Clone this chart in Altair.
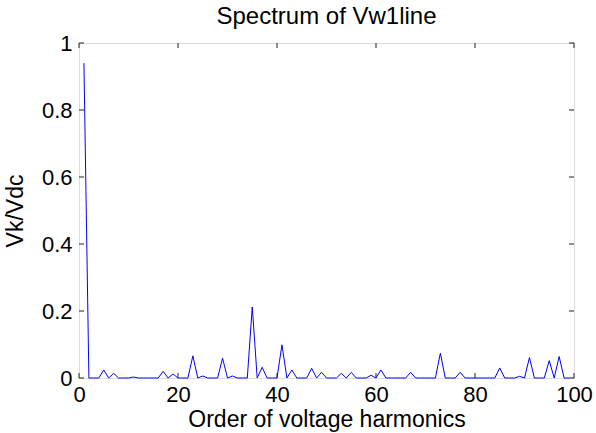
import altair as alt
import pandas as pd

orders = list(range(1, 100))
# spectrum values Vk/Vdc (harmonic order 1..99)
peaks = {1: 0.94, 5: 0.024, 7: 0.014, 11: 0.003, 17: 0.02, 19: 0.012, 23: 0.066,
         25: 0.006, 29: 0.059, 31: 0.006, 35: 0.212, 37: 0.032, 41: 0.099,
         43: 0.024, 47: 0.029, 49: 0.017, 53: 0.014, 55: 0.017, 59: 0.008,
         61: 0.024, 67: 0.017, 73: 0.074, 77: 0.017, 85: 0.03, 89: 0.005,
         91: 0.061, 95: 0.052, 97: 0.064}
values = [peaks.get(k, 0.0) for k in orders]

x_ticks = [0, 20, 40, 60, 80, 100]
y_ticks = [0, 0.2, 0.4, 0.6, 0.8, 1]

FONT = "Liberation Sans, Arial, sans-serif"
W, H = 495, 335

df = pd.DataFrame({"order": orders, "v": values})
xt = pd.DataFrame({"t": x_ticks})
yt = pd.DataFrame({"t": y_ticks})

xscale = alt.Scale(domain=[0, 100], nice=False)
yscale = alt.Scale(domain=[0, 1], nice=False)

line = alt.Chart(df).mark_line(color="#0000ff", strokeWidth=1).encode(
    x=alt.X("order:Q", scale=xscale,
            axis=alt.Axis(title="Order of voltage harmonics", values=x_ticks,
                          grid=False, domain=False, ticks=False, labelFlush=False,
                          labelFontSize=22, labelPadding=6, labelFont=FONT,
                          labelColor="#000", titleFont=FONT, titleFontSize=23,
                          titleFontWeight="normal", titleColor="#000",
                          titleX=W / 2, titleY=48, titleBaseline="alphabetic")),
    y=alt.Y("v:Q", scale=yscale,
            axis=alt.Axis(title="Vk/Vdc", values=y_ticks, grid=False,
                          domain=False, ticks=False, labelFlush=False,
                          labelFontSize=22, labelPadding=7, labelFont=FONT,
                          labelColor="#000",
                          labelExpr="datum.value == 0 ? '0' : datum.value == 1 ? '1' : format(datum.value, '.1f')",
                          titleFont=FONT, titleFontSize=23, titleFontWeight="normal",
                          titleColor="#000", titleX=-57, titleY=H / 2,
                          titleBaseline="alphabetic", titleAngle=-90)),
)

tick_color = "#222"
xb = alt.Chart(xt).mark_rule(color=tick_color).encode(
    x=alt.X("t:Q", scale=xscale), y=alt.value(H), y2=alt.value(H - 5))
xtp = alt.Chart(xt).mark_rule(color=tick_color).encode(
    x=alt.X("t:Q", scale=xscale), y=alt.value(0), y2=alt.value(5))
yl = alt.Chart(yt).mark_rule(color=tick_color).encode(
    y=alt.Y("t:Q", scale=yscale), x=alt.value(0), x2=alt.value(5))
yr = alt.Chart(yt).mark_rule(color=tick_color).encode(
    y=alt.Y("t:Q", scale=yscale), x=alt.value(W), x2=alt.value(W - 5))

chart = alt.layer(line, xb, xtp, yl, yr).properties(
    width=W, height=H,
    title=alt.TitleParams("Spectrum of Vw1line", font=FONT, fontSize=24,
                          fontWeight="normal", color="#000", anchor="middle",
                          baseline="alphabetic", offset=-16),
    autosize=alt.AutoSizeParams(type="none"),
    padding={"left": 79, "top": 43, "right": 22, "bottom": 55},
).configure_view(stroke="#333", strokeWidth=1).configure(background="white")

chart.save("out.html", embed_options={"renderer": "svg", "actions": False})
